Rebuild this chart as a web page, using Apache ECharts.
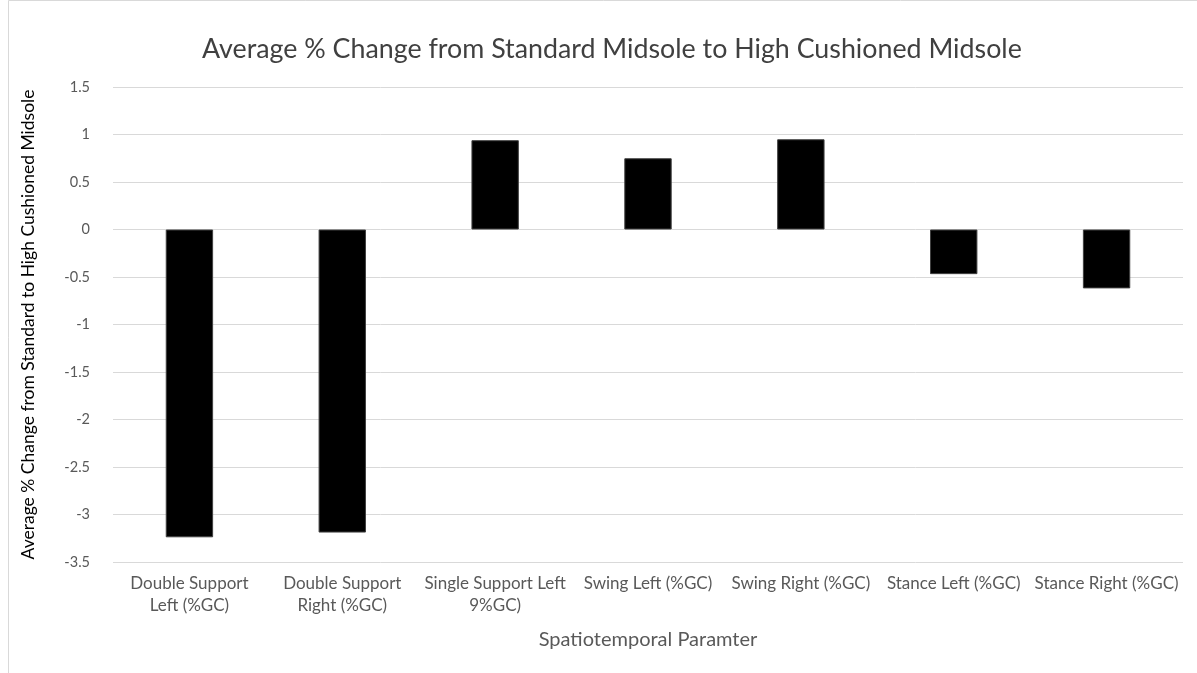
<!DOCTYPE html>
<html>
<head>
<meta charset="utf-8">
<script src="https://cdn.jsdelivr.net/npm/echarts@6/dist/echarts.min.js"></script>
<style>
  html, body { margin: 0; padding: 0; background: #fff; }
  #chart { width: 1197px; height: 673px; }
</style>
</head>
<body>
<div id="chart"></div>
<script>
// categories and values
const categories = [
  "Double Support\nLeft (%GC)",
  "Double Support\nRight (%GC)",
  "Single Support Left\n9%GC)",
  "Swing Left (%GC)",
  "Swing Right (%GC)",
  "Stance Left (%GC)",
  "Stance Right (%GC)"
];
const changeValues = [-3.24, -3.19, 0.94, 0.75, 0.95, -0.47, -0.62];

const font = "Lato, 'Open Sans', sans-serif";

let myChart = echarts.init(document.getElementById("chart"));
myChart.setOption({
  animation: false,
  backgroundColor: "#fff",
  textStyle: { fontFamily: font },
  title: {
    text: "Average % Change from Standard Midsole to High Cushioned Midsole",
    left: 197,
    top: 31,
    textStyle: {
      fontFamily: font,
      fontSize: 26.8,
      fontWeight: "normal",
      color: "#404040"
    }
  },
  graphic: [
    {
      type: "rect",
      shape: { x: 8.5, y: 0.5, width: 1200, height: 690 },
      style: { fill: "none", stroke: "#d9d9d9", lineWidth: 1 },
      silent: true
    }
  ],
  grid: { left: 113, right: 14, top: 87, bottom: 111 },
  xAxis: {
    type: "category",
    data: categories,
    position: "bottom",
    axisLine: { show: false },
    axisTick: { show: false },
    axisLabel: {
      interval: 0,
      color: "#595959",
      fontSize: 17,
      lineHeight: 22,
      margin: 11,
      fontFamily: font
    },
    name: "Spatiotemporal Paramter",
    nameLocation: "middle",
    nameGap: 68,
    nameTextStyle: { color: "#595959", fontSize: 20, fontFamily: font }
  },
  yAxis: {
    type: "value",
    min: -3.5,
    max: 1.5,
    interval: 0.5,
    axisLine: { show: false },
    axisTick: { show: false },
    axisLabel: { color: "#595959", fontSize: 14.5, margin: 23, fontFamily: font },
    splitLine: { lineStyle: { color: "#d9d9d9", width: 1 } },
    name: "Average % Change from Standard to High Cushioned Midsole",
    nameLocation: "middle",
    nameGap: 76,
    nameTextStyle: { color: "#000", fontSize: 17.5, fontFamily: font }
  },
  series: [
    {
      type: "bar",
      data: changeValues,
      barWidth: "31%",
      itemStyle: { color: "#000", borderColor: "#404040", borderWidth: 1 }
    }
  ]
});
</script>
</body>
</html>
